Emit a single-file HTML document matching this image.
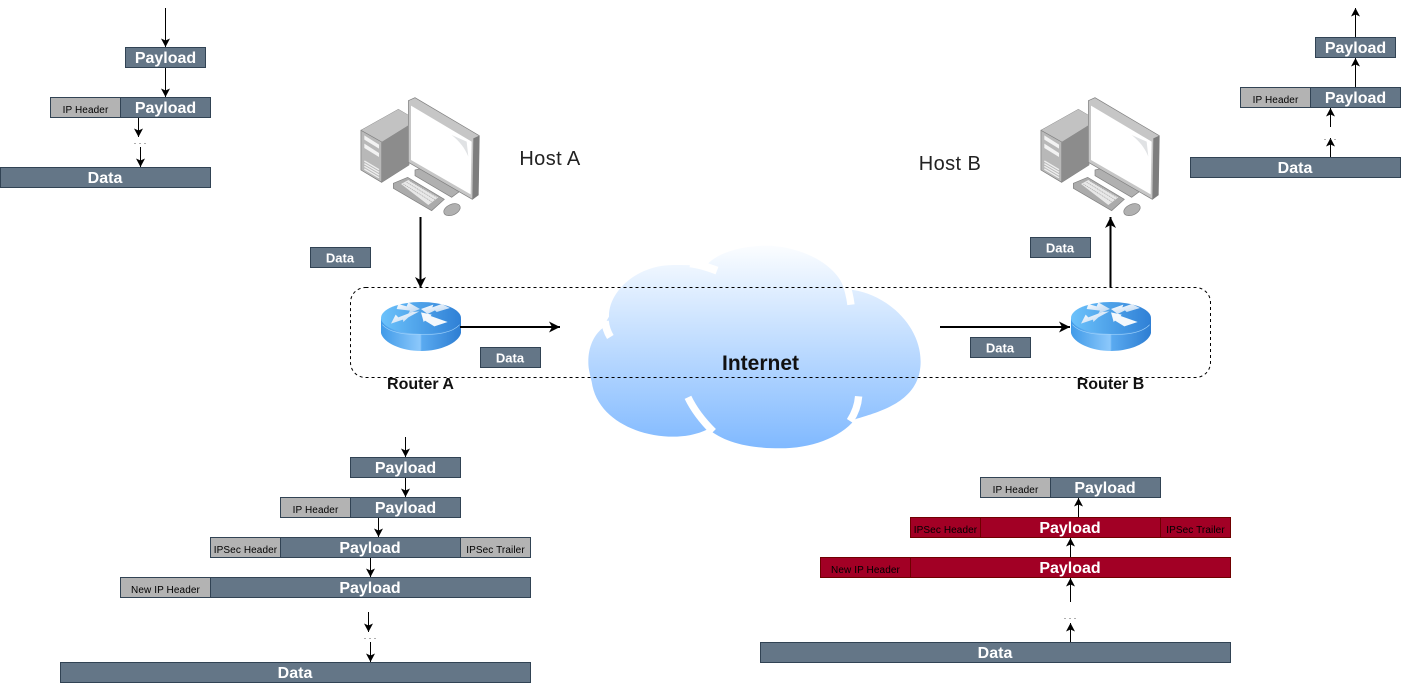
<!DOCTYPE html>
<html>
<head>
<meta charset="utf-8">
<style>
html,body{margin:0;padding:0;background:#fff;width:1401px;height:684px;overflow:hidden}
svg{display:block}
text{font-family:"Liberation Sans",Arial,sans-serif}
.b{fill:#647687;stroke:#314354;stroke-width:1}
.g{fill:#b3b3b3;stroke:#314354;stroke-width:1}
.r{fill:#a20025;stroke:#6f0000;stroke-width:1}
.t{fill:#fff;font-weight:bold;font-size:16px;text-anchor:middle}
.d{fill:#fff;font-weight:bold;font-size:13px;text-anchor:middle}
.s{fill:#000;font-size:10px;text-anchor:middle;letter-spacing:.1px}
.a{stroke:#000;stroke-width:1;fill:none;marker-end:url(#m)}
.A{stroke:#000;stroke-width:2;fill:none;marker-end:url(#M)}
.dots{fill:#444;font-size:9px;text-anchor:middle}
</style>
</head>
<body>
<svg width="1401" height="684" viewBox="0 0 1401 684" xmlns="http://www.w3.org/2000/svg">
<defs>
<marker id="m" markerUnits="userSpaceOnUse" markerWidth="10" markerHeight="10" refX="8" refY="5" orient="auto" overflow="visible"><path d="M-.5,.5 L8,5 L-.5,9.5 L1.5,5 Z" fill="#000"/></marker>
<marker id="M" markerUnits="userSpaceOnUse" markerWidth="12" markerHeight="12" refX="11" refY="6" orient="auto" overflow="visible"><path d="M0,.5 L11,6 L0,11.5 L3,6 Z" fill="#000"/></marker>
<linearGradient id="cg" x1="0" y1="0" x2="0" y2="1"><stop offset="0" stop-color="#fbfdff"/><stop offset="1" stop-color="#80b9ff"/></linearGradient>
<linearGradient id="rb" x1="0" y1="0" x2="1" y2="0"><stop offset="0" stop-color="#3f9ae8"/><stop offset=".49" stop-color="#8cc8fb"/><stop offset=".51" stop-color="#5aaaf0"/><stop offset="1" stop-color="#2d7dd2"/></linearGradient>
<linearGradient id="rt" x1="0" y1="0" x2="1" y2="0"><stop offset="0" stop-color="#6cc2fb"/><stop offset="1" stop-color="#2f80d6"/></linearGradient>
<linearGradient id="ra" x1="0" y1="0" x2="1" y2="1"><stop offset="0" stop-color="#ffffff"/><stop offset="1" stop-color="#b4d2f0"/></linearGradient>
<g id="pc" transform="translate(340,85) scale(.3333)">
  <path d="M63,136 L175,73 L207,92 L207,240 L125,292 L63,255 Z" fill="#8c8c8c" stroke="#7a7a7a" stroke-width="2"/>
  <path d="M63,136 L175,73 L207,92 L207,120 L125,171 Z" fill="#c2c2c2"/>
  <path d="M63,136 L125,171 L125,292 L63,255 Z" fill="#b8b8b8" stroke="#808080" stroke-width="2"/>
  <path d="M125,171 L207,120 L207,240 L125,292 Z" fill="#8c8c8c"/>
  <path d="M73,151 L117,179 L117,191 L73,164 Z M73,176 L117,204 L117,216 L73,189 Z" fill="#f2f2f2"/>
  <path d="M73,228 L117,254 M73,236 L117,262 M73,244 L117,270 M73,252 L117,278" stroke="#eee" stroke-width="4"/>
  <path d="M225,255 L245,250 L358,320 L335,337 L225,272 Z" fill="#b0b0b0" stroke="#808080" stroke-width="2"/>
  <path d="M205,47 L225,38 L418,152 L415,330 L397,343 L205,232 Z" fill="#c6c6c6" stroke="#808080" stroke-width="2"/>
  <path d="M400,160 L418,152 L415,330 L397,343 Z" fill="#7d7d7d"/>
  <path d="M213,62 L395,170 L392,328 L213,225 Z" fill="#fff"/>
  <path d="M335,150 L380,170 L385,215 C375,190 360,170 335,150 Z" fill="#e0e2e4"/>
  <path d="M160,295 L203,277 L313,343 L275,377 L160,310 Z" fill="#ababab" stroke="#808080" stroke-width="2"/>
  <path d="M183,297 L205,285 L295,337 L265,360 Z" fill="#e8e8e8"/>
  <path d="M190,297 L275,350 M200,292 L285,344 M210,288 L292,338" stroke="#a5a5a5" stroke-width="2" stroke-dasharray="4 2"/>
  <ellipse cx="336" cy="374" rx="26" ry="16" transform="rotate(-24 336 374)" fill="#b0b0b0" stroke="#808080" stroke-width="2"/>
</g>
<g id="rtr" transform="translate(375,298) scale(.3333)">
  <path d="M18,62 L18,105 C25,135 80,159 138,159 C196,159 251,135 258,105 L258,62 Z" fill="url(#rb)"/>
  <ellipse cx="138" cy="60" rx="120" ry="48" fill="url(#rt)"/>
  <path d="M22,80 C45,105 90,110 138,110 C186,110 231,105 254,80" stroke="#9fd2fb" stroke-width="2" fill="none"/>
  <path d="M48,77 L62,50 L70,58 L112,42 L133,40 L100,58 L85,72 L84,65 Z" fill="url(#ra)"/>
  <path d="M70,18 L95,25 L100,13 L135,33 L100,47 L105,38 L65,33 Z" fill="url(#ra)"/>
  <path d="M138,33 L175,20 L172,28 L200,18 L225,30 L185,42 L180,37 L158,48 Z" fill="url(#ra)"/>
  <path d="M138,43 L170,50 L167,54 L218,72 L178,85 L150,68 L146,72 Z" fill="#f4f8fc"/>
</g>
</defs>

<!-- cloud -->
<g transform="translate(570,235) scale(.3333)">
  <path d="M55,380 C55,335 72,300 97,280 L117,245 C115,170 200,90 310,90 C350,90 385,92 415,85 C450,50 520,32 590,32 C700,35 800,90 822,160 L850,165 C950,180 1052,270 1052,380 C1052,450 1010,490 960,515 C920,535 880,545 855,553 C810,610 720,640 630,640 C530,640 460,620 415,582 C380,600 340,605 310,605 C200,605 80,550 65,440 C58,410 55,400 55,380 Z" fill="url(#cg)"/>
  <path d="M105,258 C107,278 113,293 121,306" stroke="#fff" stroke-width="23" fill="none"/>
  <path d="M360,85 C390,88 415,97 441,107" stroke="#fff" stroke-width="24" fill="none"/>
  <path d="M825,135 C832,155 840,185 843,209" stroke="#fff" stroke-width="22" fill="none"/>
  <path d="M354,487 C372,525 395,555 430,590" stroke="#fff" stroke-width="22" fill="none"/>
  <path d="M866,484 C864,510 855,535 840,558" stroke="#fff" stroke-width="22" fill="none"/>
</g>
<text x="760.5" y="370" font-size="21" font-weight="bold" text-anchor="middle" fill="#111">Internet</text>

<rect x="350.5" y="287.5" width="860" height="90" rx="15" ry="15" fill="none" stroke="#000" stroke-width="1" stroke-dasharray="3 3"/>

<!-- hosts -->
<use href="#pc"/>
<use href="#pc" x="680"/>
<text x="550" y="165" font-size="20" text-anchor="middle" fill="#222" letter-spacing=".4">Host A</text>
<text x="950" y="170" font-size="20" text-anchor="middle" fill="#222" letter-spacing=".4">Host B</text>

<!-- routers -->
<use href="#rtr"/>
<use href="#rtr" x="690"/>
<text x="420.5" y="389" font-size="16" font-weight="bold" text-anchor="middle" fill="#111">Router A</text>
<text x="1110.5" y="389" font-size="16" font-weight="bold" text-anchor="middle" fill="#111">Router B</text>

<!-- main arrows -->
<path class="A" d="M420.5,217 V288"/>
<path class="A" d="M460,327 H560"/>
<path class="A" d="M940,327 H1070"/>
<path class="A" d="M1110.5,287 V217"/>

<!-- small data boxes -->
<rect class="b" x="310.5" y="247.5" width="60" height="20"/><text class="d" x="340" y="262.5">Data</text>
<rect class="b" x="480.5" y="347.5" width="60" height="20"/><text class="d" x="510" y="362.5">Data</text>
<rect class="b" x="970.5" y="337.5" width="60" height="20"/><text class="d" x="1000" y="352.5">Data</text>
<rect class="b" x="1030.5" y="237.5" width="60" height="20"/><text class="d" x="1060" y="252.5">Data</text>

<!-- top-left stack -->
<path class="a" d="M165.5,8 V47"/>
<path class="a" d="M165.5,67 V97"/>
<path class="a" d="M138.5,117 V137"/>
<path class="a" d="M140.5,147 V167"/>
<text class="dots" x="140" y="144">. . .</text>
<rect class="b" x="125.5" y="47.5" width="80" height="20"/><text class="t" x="165.5" y="63">Payload</text>
<rect class="g" x="50.5" y="97.5" width="70" height="20"/><text class="s" x="85.5" y="113">IP Header</text>
<rect class="b" x="120.5" y="97.5" width="90" height="20"/><text class="t" x="165.5" y="113">Payload</text>
<rect class="b" x="0.5" y="167.5" width="210" height="20"/><text class="t" x="105" y="183">Data</text>

<!-- top-right stack -->
<path class="a" d="M1355.5,37 V8"/>
<path class="a" d="M1355.5,87 V58"/>
<path class="a" d="M1330.5,127 V108"/>
<path class="a" d="M1330.5,157 V138"/>
<text class="dots" x="1330" y="140">. . .</text>
<rect class="b" x="1315.5" y="37.5" width="80" height="20"/><text class="t" x="1355.5" y="53">Payload</text>
<rect class="g" x="1240.5" y="87.5" width="70" height="20"/><text class="s" x="1275.5" y="103">IP Header</text>
<rect class="b" x="1310.5" y="87.5" width="90" height="20"/><text class="t" x="1355.5" y="103">Payload</text>
<rect class="b" x="1190.5" y="157.5" width="210" height="20"/><text class="t" x="1295" y="173">Data</text>

<!-- bottom-left stack -->
<path class="a" d="M405.5,437 V457"/>
<path class="a" d="M405.5,477 V497"/>
<path class="a" d="M378.5,517 V537"/>
<path class="a" d="M370.5,557 V577"/>
<path class="a" d="M368.5,612 V632"/>
<path class="a" d="M370.5,642 V662"/>
<text class="dots" x="370" y="639">. . .</text>
<rect class="b" x="350.5" y="457.5" width="110" height="20"/><text class="t" x="405.5" y="473">Payload</text>
<rect class="g" x="280.5" y="497.5" width="70" height="20"/><text class="s" x="315.5" y="513">IP Header</text>
<rect class="b" x="350.5" y="497.5" width="110" height="20"/><text class="t" x="405.5" y="513">Payload</text>
<rect class="g" x="210.5" y="537.5" width="70" height="20"/><text class="s" x="245.5" y="553">IPSec Header</text>
<rect class="b" x="280.5" y="537.5" width="180" height="20"/><text class="t" x="370" y="553">Payload</text>
<rect class="g" x="460.5" y="537.5" width="70" height="20"/><text class="s" x="495.5" y="553">IPSec Trailer</text>
<rect class="g" x="120.5" y="577.5" width="90" height="20"/><text class="s" x="165.5" y="593">New IP Header</text>
<rect class="b" x="210.5" y="577.5" width="320" height="20"/><text class="t" x="370" y="593">Payload</text>
<rect class="b" x="60.5" y="662.5" width="470" height="20"/><text class="t" x="295" y="678">Data</text>

<!-- bottom-right stack -->
<path class="a" d="M1078.5,517 V498"/>
<path class="a" d="M1070.5,557 V538"/>
<path class="a" d="M1070.5,602 V578"/>
<path class="a" d="M1070.5,642 V623"/>
<text class="dots" x="1070" y="619">. . .</text>
<rect class="g" x="980.5" y="477.5" width="70" height="20"/><text class="s" x="1015.5" y="493">IP Header</text>
<rect class="b" x="1050.5" y="477.5" width="110" height="20"/><text class="t" x="1105" y="493">Payload</text>
<rect class="r" x="910.5" y="517.5" width="70" height="20"/><text class="s" x="945.5" y="533">IPSec Header</text>
<rect class="r" x="980.5" y="517.5" width="180" height="20"/><text class="t" x="1070" y="533">Payload</text>
<rect class="r" x="1160.5" y="517.5" width="70" height="20"/><text class="s" x="1195.5" y="533">IPSec Trailer</text>
<rect class="r" x="820.5" y="557.5" width="90" height="20"/><text class="s" x="865.5" y="573">New IP Header</text>
<rect class="r" x="910.5" y="557.5" width="320" height="20"/><text class="t" x="1070" y="573">Payload</text>
<rect class="b" x="760.5" y="642.5" width="470" height="20"/><text class="t" x="995" y="658">Data</text>
</svg>
</body>
</html>
